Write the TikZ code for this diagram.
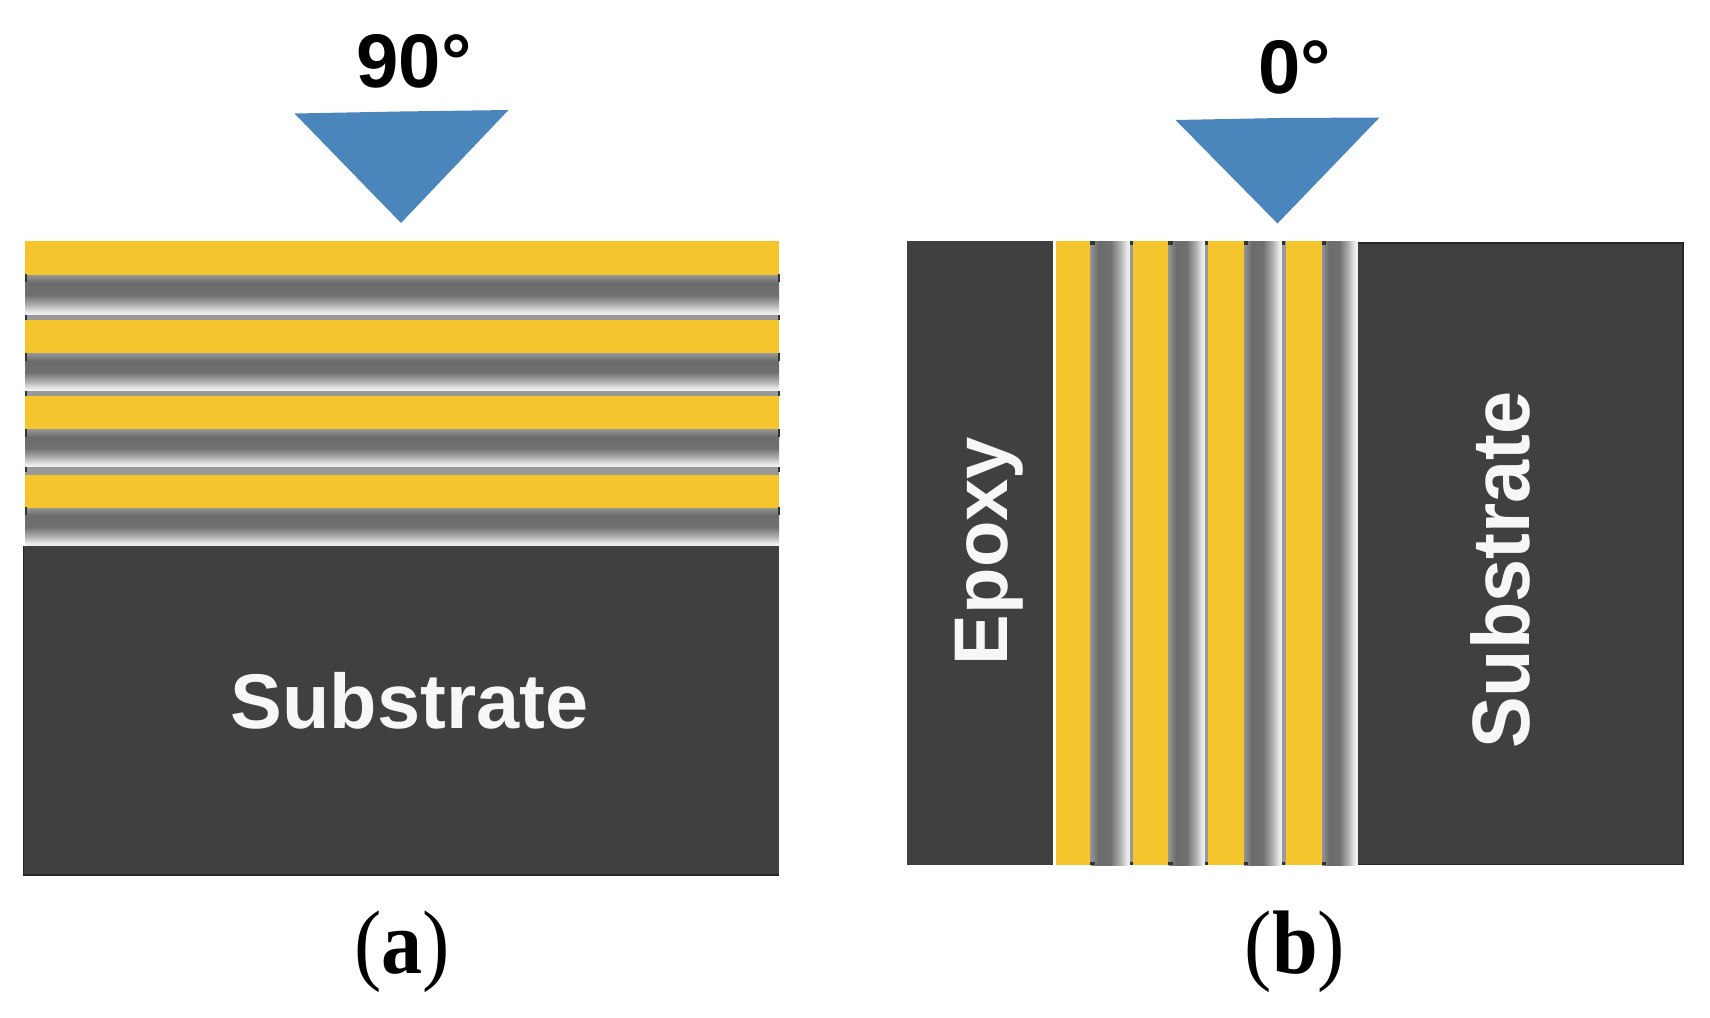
\documentclass[tikz,border=0pt]{standalone}
\usepackage{fontspec}
\setmainfont{Liberation Sans}
\newfontfamily\capfont{Liberation Serif}
\definecolor{ybar}{HTML}{F5C52E}
\definecolor{subst}{HTML}{404040}
\definecolor{tri}{HTML}{4A86BB}
% stops: 0-100 of layer = 25-75bp of the shading
\pgfdeclareverticalshading{glayer}{100bp}{
  color(0bp)=(black!5);
  color(25bp)=(black!5);
  color(29bp)=(black!9);
  color(37.5bp)=(black!31);
  color(50bp)=(black!56);
  color(65bp)=(black!58);
  color(75bp)=(black!42);
  color(100bp)=(black!42)}
\tikzset{
  yband/.style={fill=ybar,draw=none},
  glayerH/.style={shading=glayer,shading angle=0,draw=none},
  glayerV/.style={shading=glayer,shading angle=90,draw=none},
  thinband/.style={fill=black!40,draw=none},
  dark/.style={fill=subst,draw=none},
  edge/.style={draw=black!85,line width=1.6pt},
  tick/.style={fill=black!80,draw=none},
  pointer/.style={fill=tri,draw=none},
  deg/.style={font=\fontsize{76}{80}\bfseries\selectfont,text=black,inner sep=0pt,anchor=base},
  light/.style={font=\fontsize{77.5}{80}\bfseries\selectfont,text=white!97!black,inner sep=0pt,anchor=base},
  panelcap/.style={font=\fontsize{82}{90}\capfont\selectfont,text=black,inner sep=0pt,anchor=base}
}
\begin{document}
\begin{tikzpicture}[x=1pt,y=-1pt]
\useasboundingbox[fill=white] (0,0) rectangle (1710,1017);

% ---- panel (a) ----
\foreach \ya/\yb/\yc/\yd in {241/275/315/319.5, 319.5/353.5/391/396, 396/429.5/467/474.5, 474.5/508/546/546}{
  \path[yband] (25,\ya) rectangle (779,\yb);
  \path[glayerH] (25,\yb) rectangle (779,\yc);
  \path[thinband] (25,\yc) rectangle (779,\yd);
  \path[tick] (25,\yb-1) rectangle (27,\yb+7);
  \path[tick] (777.5,\yb-1) rectangle (779.5,\yb+7);
}
\foreach \y in {315,391,467}{
  \path[tick] (25,\y) rectangle (27,\y+5);
  \path[tick] (777.5,\y) rectangle (779.5,\y+5);
}
\path[dark] (23,546) rectangle (779,875);
\draw[edge] (23.5,546) -- (23.5,875) -- (779,875);
\node[light] (subA) at (409.5,728) {Substrate};
\path[pointer] (294.5,113.5) -- (400,111.5) -- (508.5,110) -- (401,223) -- cycle;
\node[deg] (angA) at (414,87) {90°};
\node[panelcap] (capA) at (402,973) {\scalebox{1}[1.1]{(\textbf{a})}};

% ---- panel (b) ----
\path[dark] (907,241) rectangle (1052.5,865);
\foreach \xa/\xb/\xc/\xd in {1056/1090.5/1130/1133, 1133/1168.5/1205/1208, 1208/1244/1282/1286, 1286/1322/1357/1357}{
  \path[yband] (\xa,241) rectangle (\xb,865);
  \path[glayerV] (\xb,241) rectangle (\xc,865);
  \path[thinband] (\xc,241) rectangle (\xd,865);
  \path[tick] (\xb-.5,241) rectangle (\xb+4,244.5);
  \path[tick] (\xb-.5,861.5) rectangle (\xb+4,864.5);
}
\foreach \x in {1130,1205,1282}{
  \path[tick] (\x,241) rectangle (\x+3,244.5);
  \path[tick] (\x,861.5) rectangle (\x+3,864.5);
}
\path[dark] (1358,243) rectangle (1683,865);
\draw[edge,line width=1.2pt] (1358,243) -- (1683,243) -- (1683,864.5) -- (1358,864.5);
\node[light,rotate=90,font=\fontsize{76}{80}\bfseries\selectfont] (epoxy) at (1007,551) {Epoxy};
\node[light,rotate=90] (subB) at (1529,570) {\scalebox{1}[1.05]{Substrate}};
\path[pointer] (1175.5,120) -- (1280,118) -- (1379.5,117.5) -- (1277.5,223.5) -- cycle;
\node[deg] (angB) at (1294.5,93) {0°};
\node[panelcap] (capB) at (1295,973) {\scalebox{1}[1.1]{(\textbf{b})}};
\end{tikzpicture}
\end{document}
